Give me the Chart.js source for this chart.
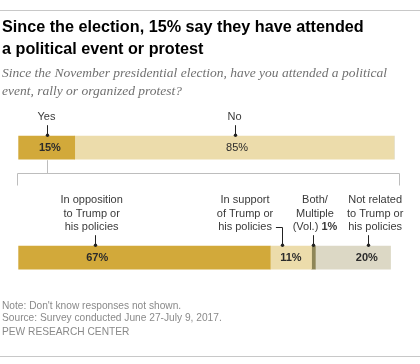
<!DOCTYPE html>
<html>
<head>
<meta charset="utf-8">
<script src="https://cdn.jsdelivr.net/npm/chart.js@4.4.1/dist/chart.umd.min.js"></script>
<style>
  html, body { margin: 0; padding: 0; background: #fff; }
  body { width: 420px; height: 364px; position: relative; overflow: hidden; }
  #wrap { position: absolute; left: 0; top: 0; width: 420px; height: 364px; }
  .rule { position: absolute; left: 0; width: 420px; height: 1px; background: #c8c8c8; }
  .title { position: absolute; left: 2px; top: 16px; font-family: "Liberation Sans", Arial, sans-serif; font-weight: bold; font-size: 16.2px; line-height: 21.5px; color: #000; white-space: nowrap; }
  .sub { position: absolute; left: 2px; top: 64px; font-family: "Liberation Serif", serif; font-style: italic; font-size: 13.5px; line-height: 18px; color: #707070; white-space: nowrap; }
  .note { position: absolute; left: 2px; font-family: "Liberation Sans", Arial, sans-serif; font-size: 10.2px; line-height: 11.7px; color: #8a8a8a; white-space: nowrap; }
</style>
</head>
<body>
<div id="wrap"><canvas id="c" width="420" height="364"></canvas></div>
<div class="rule" style="top:10px"></div>
<div class="title">Since the election, 15% say they have attended<br>a political event or protest</div>
<div class="sub">Since the November presidential election, have you attended a political<br>event, rally or organized protest?</div>
<div class="note" style="top:300px">Note: Don't know responses not shown.<br>Source: Survey conducted June 27-July 9, 2017.</div>
<div class="note" style="top:325.5px">PEW RESEARCH CENTER</div>
<div class="rule" style="top:356px"></div>
<script>
// ---- data ----
const rows = ["Attended", "Nature of event"];
const darkSeries = [15, 67];   // Yes / In opposition
const lightSeries = [85, 11];  // No / In support
const bothSeries = [0, 1];     // Both/Multiple (Vol.)
const notRelSeries = [0, 20];  // Not related

const catLabels = [
  // row, lines, label center value, tick value, value text, text center value, bold
  { row: 0, lines: ["Yes"], lx: 7.5, tx: 7.5, val: "15%", vx: 8.4, bold: true },
  { row: 0, lines: ["No"], lx: 57.5, tx: 57.5, val: "85%", vx: 58.2, bold: false },
  { row: 1, lines: ["In opposition", "to Trump or", "his policies"], lx: 19.5, tx: 20.4, val: "67%", vx: 21, bold: true },
  { row: 1, lines: ["In support", "of Trump or", "his policies"], lx: 60.3, tx: 70.1, val: "11%", vx: 72.5, bold: true, elbow: true },
  { row: 1, lines: ["Both/", "Multiple", "(Vol.) |1%"], lx: 78.9, tx: 78.5, val: "", vx: 0, bold: true },
  { row: 1, lines: ["Not related", "to Trump or", "his policies"], lx: 94.9, tx: 93.1, val: "20%", vx: 92.7, bold: true }
];

const COLORS = { dark: "#d2a93a", light: "#ecdcab", both: "#8e8658", notrel: "#dcd8c5", ink: "#2b2b2b", rule: "#bdbdbd" };
const FONT = '"Liberation Sans", Arial, sans-serif';

const annot = {
  id: "annot",
  afterDatasetsDraw(chart) {
    const ctx = chart.ctx;
    const xs = chart.scales.x, ys = chart.scales.y;
    const barH = 23;
    ctx.save();
    ctx.textBaseline = "middle";
    ctx.textAlign = "center";
    catLabels.forEach(c => {
      const cy = ys.getPixelForValue(c.row);
      const barTop = cy - barH / 2;
      const lx = xs.getPixelForValue(c.lx);
      const tx = Math.round(xs.getPixelForValue(c.tx)) + 0.5;
      ctx.fillStyle = "#3a3a3a";
      const n = c.lines.length;
      const lh = 13.6;
      const lastY = barTop - 19;
      c.lines.forEach((ln, i) => {
        const y = lastY - (n - 1 - i) * lh;
        if (ln.indexOf("|") >= 0) {
          const parts = ln.split("|");
          ctx.font = "11px " + FONT;
          const w1 = ctx.measureText(parts[0]).width;
          ctx.font = "bold 11px " + FONT;
          const w2 = ctx.measureText(parts[1]).width;
          const x0 = lx - (w1 + w2) / 2;
          ctx.textAlign = "left";
          ctx.font = "11px " + FONT;
          ctx.fillText(parts[0], x0, y);
          ctx.font = "bold 11px " + FONT;
          ctx.fillText(parts[1], x0 + w1, y);
          ctx.textAlign = "center";
        } else {
          ctx.font = "11px " + FONT;
          ctx.fillText(ln, lx, y);
        }
      });
      ctx.strokeStyle = "#222";
      ctx.lineWidth = 1;
      ctx.beginPath();
      if (c.elbow) {
        ctx.font = "11px " + FONT;
        const w = ctx.measureText(c.lines[n - 1]).width;
        const sx = lx + w / 2 + 4;
        const ey = Math.round(lastY) + 0.5;
        ctx.moveTo(sx, ey);
        ctx.lineTo(tx, ey);
        ctx.lineTo(tx, barTop);
      } else {
        ctx.moveTo(tx, barTop - 11);
        ctx.lineTo(tx, barTop);
      }
      ctx.stroke();
      ctx.fillStyle = "#222";
      ctx.beginPath();
      ctx.arc(tx, barTop - 1, 1.7, 0, Math.PI * 2);
      ctx.fill();
      if (c.val) {
        ctx.fillStyle = "#2b2b2b";
        ctx.font = (c.bold ? "bold " : "") + "11px " + FONT;
        ctx.fillText(c.val, xs.getPixelForValue(c.vx), cy + 0.5);
      }
    });
    const y0 = ys.getPixelForValue(0) + barH / 2;
    const yb = 173.5;
    const bx = Math.round(xs.getPixelForValue(catLabels[0].tx)) + 0.5;
    const lx0 = Math.round(xs.getPixelForValue(-0.27)) + 0.5;
    const rx0 = Math.round(xs.getPixelForValue(101.25)) + 0.5;
    ctx.strokeStyle = COLORS.rule;
    ctx.lineWidth = 1;
    ctx.beginPath();
    ctx.moveTo(bx, y0 + 1);
    ctx.lineTo(bx, yb);
    ctx.moveTo(lx0, yb + 12);
    ctx.lineTo(lx0, yb);
    ctx.lineTo(rx0, yb);
    ctx.lineTo(rx0, yb + 12);
    ctx.stroke();
    ctx.restore();
  }
};

new Chart(document.getElementById("c"), {
  type: "bar",
  data: {
    labels: rows,
    datasets: [
      { data: darkSeries, backgroundColor: COLORS.dark },
      { data: lightSeries, backgroundColor: COLORS.light },
      { data: bothSeries, backgroundColor: COLORS.both },
      { data: notRelSeries, backgroundColor: COLORS.notrel }
    ]
  },
  options: {
    indexAxis: "y",
    responsive: false,
    animation: false,
    maintainAspectRatio: false,
    layout: { padding: { left: 18.3, right: 25.7, top: 92.7, bottom: 51.3 } },
    datasets: { bar: { barThickness: 23, borderWidth: 0, borderSkipped: false } },
    scales: {
      x: { stacked: true, min: 0, max: 100, display: false },
      y: { stacked: true, display: false }
    },
    plugins: { legend: { display: false }, tooltip: { enabled: false } }
  },
  plugins: [annot]
});
</script>
</body>
</html>
